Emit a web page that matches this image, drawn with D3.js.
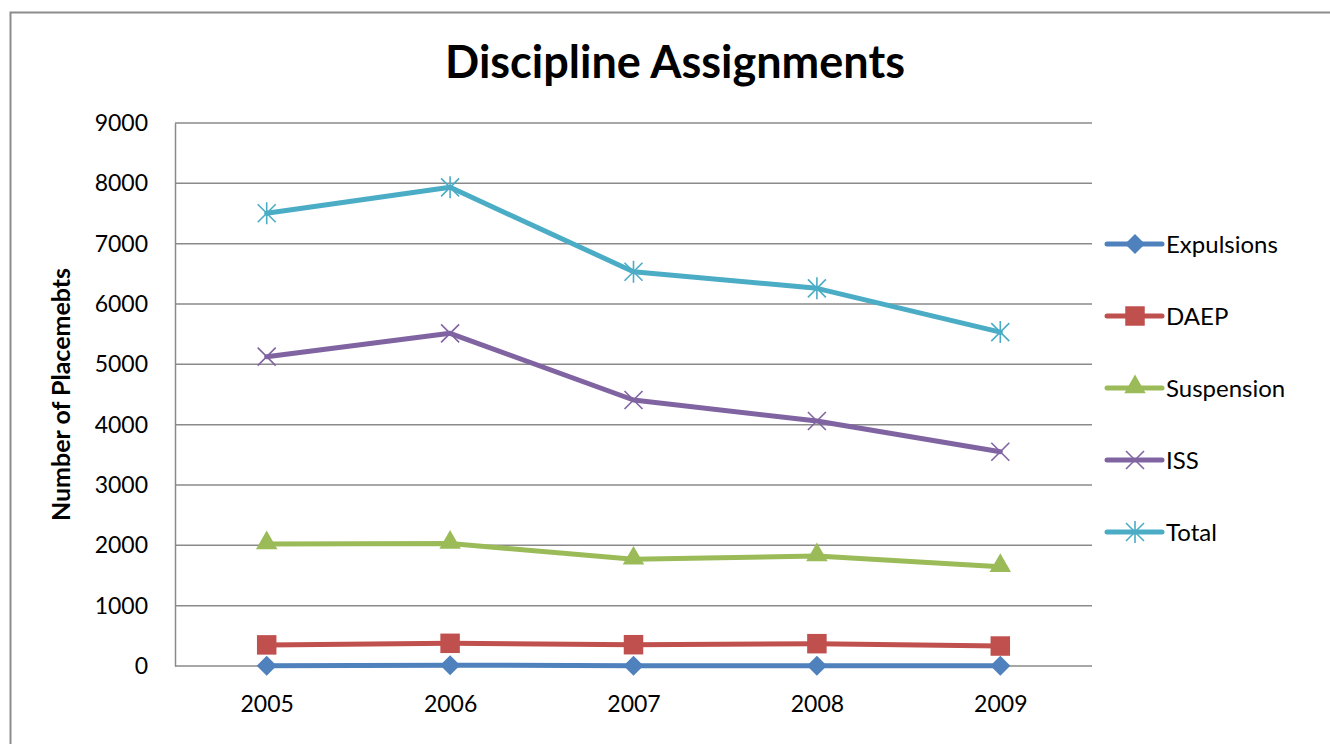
<!DOCTYPE html>
<html>
<head>
<meta charset="utf-8">
<script src="https://cdn.jsdelivr.net/npm/d3@7"></script>
<style>
  body { margin: 0; background: #fff; }
  svg { display: block; font-family: Lato, "Open Sans", sans-serif; }
</style>
</head>
<body>
<div id="chart"></div>
<script>
// chart values
var years = ["2005", "2006", "2007", "2008", "2009"];
var seriesNames = ["Expulsions", "DAEP", "Suspension", "ISS", "Total"];
var expulsions = [6, 14, 5, 6, 5];
var daep = [350, 376, 353, 370, 331];
var suspension = [2022, 2030, 1768, 1823, 1646];
var iss = [5127, 5514, 4409, 4061, 3552];
var total = [7505, 7934, 6535, 6260, 5534];
var yTicks = [0, 1000, 2000, 3000, 4000, 5000, 6000, 7000, 8000, 9000];

var colors = ["#4F81BD", "#C0504D", "#9BBB59", "#8064A2", "#4BACC6"];
var values = [expulsions, daep, suspension, iss, total];
var markers = ["diamond", "square", "triangle", "x", "star"];

var width = 1330, height = 744;
var margin = {top: 123, left: 175, right: 238, bottom: 78};
var font = "Lato, 'Open Sans', sans-serif";

var svg = d3.select("#chart").append("svg")
    .attr("width", width)
    .attr("height", height);

// outer chart border (runs off the right and bottom edge)
svg.append("rect")
    .attr("x", 10.5).attr("y", 12.5)
    .attr("width", width + 20).attr("height", height + 20)
    .attr("fill", "none")
    .attr("stroke", "#8c8c8c")
    .attr("stroke-width", 2);

var x = d3.scalePoint()
    .domain(years)
    .range([margin.left, width - margin.right])
    .padding(0.5);

var y = d3.scaleLinear()
    .domain([0, 9000])
    .range([height - margin.bottom, margin.top]);

// gridlines
svg.append("g").selectAll("line")
    .data(yTicks.filter(d => d > 0))
    .enter().append("line")
    .attr("x1", margin.left)
    .attr("x2", width - margin.right)
    .attr("y1", d => y(d))
    .attr("y2", d => y(d))
    .attr("stroke", "#8a8a8a")
    .attr("stroke-width", 1.5);

// y axis
var yAxis = d3.axisLeft(y).tickValues(yTicks).tickSize(0).tickPadding(27)
    .tickFormat(d3.format("d"));
var gy = svg.append("g")
    .attr("transform", "translate(" + margin.left + ",0)")
    .call(yAxis)
    .attr("font-family", font);
gy.select(".domain").attr("stroke", "#8a8a8a").attr("stroke-width", 1.5);
gy.selectAll("text")
    .style("font-size", "23px")
    .attr("fill", "#000");

// x axis
var xAxis = d3.axisBottom(x).tickSize(0).tickPadding(30);
var gx = svg.append("g")
    .attr("transform", "translate(0," + (height - margin.bottom) + ")")
    .call(xAxis)
    .attr("font-family", font);
gx.select(".domain")
    .attr("d", "M" + margin.left + ",0H" + (width - margin.right))
    .attr("stroke", "#8a8a8a").attr("stroke-width", 1.5);
gx.selectAll("text")
    .style("font-size", "23px")
    .attr("fill", "#000");

// title + axis label
svg.append("text")
    .attr("x", 675).attr("y", 78)
    .attr("text-anchor", "middle")
    .style("font-size", "45px")
    .style("font-weight", "bold")
    .text("Discipline Assignments");

svg.append("text")
    .attr("transform", "translate(70," + ((margin.top + height - margin.bottom) / 2) + ") rotate(-90)")
    .attr("text-anchor", "middle")
    .style("font-size", "25px")
    .style("font-weight", "bold")
    .text("Number of Placemebts");

// marker drawing
function drawMarker(g, type, color) {
    if (type == "diamond") {
        g.append("path")
            .attr("d", d3.symbol().type(d3.symbolSquare).size(200)())
            .attr("transform", "rotate(45)")
            .attr("fill", color);
    } else if (type == "square") {
        g.append("path")
            .attr("d", d3.symbol().type(d3.symbolSquare).size(380)())
            .attr("fill", color);
    } else if (type == "triangle") {
        g.append("path")
            .attr("d", d3.symbol().type(d3.symbolTriangle).size(200)())
            .attr("transform", "translate(0,-1)")
            .attr("fill", color);
    } else {
        var p = d3.path(), r = 9;
        p.moveTo(-r, -r); p.lineTo(r, r);
        p.moveTo(-r, r); p.lineTo(r, -r);
        if (type == "star") { p.moveTo(0, -r - 2); p.lineTo(0, r + 2); }
        g.append("path")
            .attr("d", p.toString())
            .attr("stroke", color)
            .attr("stroke-width", 1.6)
            .attr("fill", "none");
    }
}

var line = d3.line()
    .x((d, i) => x(years[i]))
    .y(d => y(d));

seriesNames.forEach(function(name, s) {
    var g = svg.append("g").attr("class", "series");
    g.append("path")
        .datum(values[s])
        .attr("d", line)
        .attr("fill", "none")
        .attr("stroke", colors[s])
        .attr("stroke-width", 5)
        .attr("stroke-linejoin", "round")
        .attr("stroke-linecap", "round");
    values[s].forEach(function(v, i) {
        var m = g.append("g")
            .attr("transform", "translate(" + x(years[i]) + "," + y(v) + ")");
        drawMarker(m, markers[s], colors[s]);
    });
});

// legend
var legend = svg.selectAll(".legend")
    .data(seriesNames)
    .enter().append("g")
    .attr("class", "legend")
    .attr("transform", (d, i) => "translate(1107," + (244 + i * 72) + ")");
legend.append("line")
    .attr("x1", 0).attr("x2", 55)
    .attr("stroke", (d, i) => colors[i])
    .attr("stroke-width", 5)
    .attr("stroke-linecap", "round");
legend.each(function(d, i) {
    var m = d3.select(this).append("g").attr("transform", "translate(28,0)");
    drawMarker(m, markers[i], colors[i]);
});
legend.append("text")
    .attr("x", 59)
    .attr("dy", "0.36em")
    .style("font-size", "24px")
    .text(d => d);
</script>
</body>
</html>
